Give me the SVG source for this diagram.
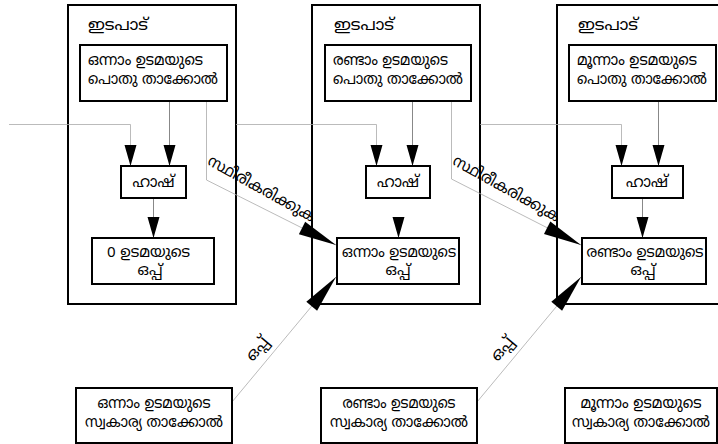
<svg xmlns="http://www.w3.org/2000/svg" width="718" height="444" viewBox="0 0 718 444">
<defs>
<style>
.box{fill:#fff;stroke:#000;stroke-width:2}
.t{font-family:"Noto Sans Malayalam","Noto Sans","DejaVu Sans",sans-serif;font-size:16px;fill:#000}
.s{font-size:15px}
.c{text-anchor:middle}
.ln{fill:none;stroke:#888;stroke-width:1}
.lt{fill:none;stroke:#aaa;stroke-width:0.8}
</style>
<marker id="a" markerUnits="userSpaceOnUse" markerWidth="22" markerHeight="14" refX="21" refY="6" orient="auto" overflow="visible"><path d="M0,0 L21,6 L0,12 z" fill="#000"/></marker>
<marker id="b" markerUnits="userSpaceOnUse" markerWidth="40" markerHeight="16" refX="38" refY="7" orient="auto" overflow="visible"><path d="M0,0 L38,7 L0,14 z" fill="#000"/></marker>
</defs>
<rect width="718" height="444" fill="#fff"/>

<g id="tx1">
<rect class="box" x="68" y="5" width="168" height="299"/>
<text class="t" x="88" y="30" textLength="60" lengthAdjust="spacingAndGlyphs">ഇടപാട്</text>
</g>
<g id="tx2">
<rect class="box" x="312" y="5" width="168" height="299"/>
<text class="t" x="334" y="30" textLength="60" lengthAdjust="spacingAndGlyphs">ഇടപാട്</text>
</g>
<g id="tx3">
<rect class="box" x="557" y="5" width="168" height="299"/>
<text class="t" x="578" y="30" textLength="60" lengthAdjust="spacingAndGlyphs">ഇടപാട്</text>
</g>

<g id="connectors">
<path class="lt" d="M9,124.5 H130.5 V166" marker-end="url(#a)"/>
<path class="ln" d="M169.5,101 V166" marker-end="url(#a)"/>
<path class="lt" d="M206.5,101 V180 L336,245" marker-end="url(#b)"/>
<path class="ln" d="M153.5,198 V238" marker-end="url(#a)"/>
<path class="lt" d="M232,402 L336,277" marker-end="url(#b)"/>

<path class="lt" d="M236,124.5 H376.5 V166" marker-end="url(#a)"/>
<path class="ln" d="M412.5,101 V166" marker-end="url(#a)"/>
<path class="lt" d="M451.5,101 V179 L581,245" marker-end="url(#b)"/>
<path d="M398.5,198 V238" fill="none" stroke="none" marker-end="url(#a)"/>
<path class="lt" d="M477,402 L581,277" marker-end="url(#b)"/>

<path class="lt" d="M480,124.5 H621.5 V166" marker-end="url(#a)"/>
<path class="ln" d="M658.5,101 V166" marker-end="url(#a)"/>
<path class="ln" d="M642.5,198 V238" marker-end="url(#a)"/>

<text class="t c" transform="translate(259,193) rotate(29)" textLength="120" lengthAdjust="spacingAndGlyphs">സ്ഥിരീകരിക്കുക</text>
<text class="t c" transform="translate(504,193) rotate(29)" textLength="120" lengthAdjust="spacingAndGlyphs">സ്ഥിരീകരിക്കുക</text>
<text class="t c" font-size="14" transform="translate(261,352) rotate(-50)" textLength="26" lengthAdjust="spacingAndGlyphs">ഒപ്പ്</text>
<text class="t c" font-size="14" transform="translate(506,352) rotate(-50)" textLength="26" lengthAdjust="spacingAndGlyphs">ഒപ്പ്</text>
</g>

<g id="pub1">
<rect class="box" x="80" y="45" width="147" height="56"/>
<text class="t" x="88" y="65" textLength="115" lengthAdjust="spacingAndGlyphs">ഒന്നാം ഉടമയുടെ</text>
<text class="t s" x="88" y="84" textLength="130" lengthAdjust="spacingAndGlyphs">പൊതു താക്കോൽ</text>
</g>
<g id="pub2">
<rect class="box" x="325" y="45" width="146" height="56"/>
<text class="t" x="333" y="65" textLength="115" lengthAdjust="spacingAndGlyphs">രണ്ടാം ഉടമയുടെ</text>
<text class="t s" x="333" y="84" textLength="130" lengthAdjust="spacingAndGlyphs">പൊതു താക്കോൽ</text>
</g>
<g id="pub3">
<rect class="box" x="569" y="45" width="147" height="56"/>
<text class="t" x="577" y="65" textLength="120" lengthAdjust="spacingAndGlyphs">മൂന്നാം ഉടമയുടെ</text>
<text class="t s" x="577" y="84" textLength="130" lengthAdjust="spacingAndGlyphs">പൊതു താക്കോൽ</text>
</g>

<g id="hash1">
<rect class="box" x="121" y="166" width="65" height="32"/>
<text class="t c" x="153.5" y="187" textLength="42" lengthAdjust="spacingAndGlyphs">ഹാഷ്</text>
</g>
<g id="hash2">
<rect class="box" x="366" y="166" width="64" height="32"/>
<text class="t c" x="398" y="187" textLength="42" lengthAdjust="spacingAndGlyphs">ഹാഷ്</text>
</g>
<g id="hash3">
<rect class="box" x="612" y="166" width="71" height="32"/>
<text class="t c" x="647" y="187" textLength="42" lengthAdjust="spacingAndGlyphs">ഹാഷ്</text>
</g>

<g id="sig1">
<rect class="box" x="92" y="238" width="122" height="46"/>
<text class="t s" x="148.5" y="257" text-anchor="middle" textLength="83" lengthAdjust="spacingAndGlyphs">0 ഉടമയുടെ</text>
<text class="t s" x="150" y="275" text-anchor="middle" textLength="25" lengthAdjust="spacingAndGlyphs">ഒപ്പ്</text>
</g>
<g id="sig2">
<rect class="box" x="337" y="238" width="122" height="46"/>
<text class="t s" x="399" y="257" text-anchor="middle" textLength="114" lengthAdjust="spacingAndGlyphs">ഒന്നാം ഉടമയുടെ</text>
<text class="t s" x="398" y="275" text-anchor="middle" textLength="25" lengthAdjust="spacingAndGlyphs">ഒപ്പ്</text>
</g>
<g id="sig3">
<rect class="box" x="582" y="238" width="124" height="46"/>
<text class="t s" x="645" y="257" text-anchor="middle" textLength="117" lengthAdjust="spacingAndGlyphs">രണ്ടാം ഉടമയുടെ</text>
<text class="t s" x="643" y="275" text-anchor="middle" textLength="25" lengthAdjust="spacingAndGlyphs">ഒപ്പ്</text>
</g>

<g id="priv1">
<rect class="box" x="76" y="388" width="156" height="55"/>
<text class="t c" x="154" y="408" textLength="113" lengthAdjust="spacingAndGlyphs">ഒന്നാം ഉടമയുടെ</text>
<text class="t s" x="154" y="427" text-anchor="middle" textLength="138" lengthAdjust="spacingAndGlyphs">സ്വകാര്യ താക്കോൽ</text>
</g>
<g id="priv2">
<rect class="box" x="321" y="388" width="156" height="55"/>
<text class="t c" x="399" y="408" textLength="113" lengthAdjust="spacingAndGlyphs">രണ്ടാം ഉടമയുടെ</text>
<text class="t s" x="399" y="427" text-anchor="middle" textLength="138" lengthAdjust="spacingAndGlyphs">സ്വകാര്യ താക്കോൽ</text>
</g>
<g id="priv3">
<rect class="box" x="565" y="388" width="152" height="55"/>
<text class="t c" x="641" y="408" textLength="121" lengthAdjust="spacingAndGlyphs">മൂന്നാം ഉടമയുടെ</text>
<text class="t s" x="641" y="427" text-anchor="middle" textLength="138" lengthAdjust="spacingAndGlyphs">സ്വകാര്യ താക്കോൽ</text>
</g>
</svg>
